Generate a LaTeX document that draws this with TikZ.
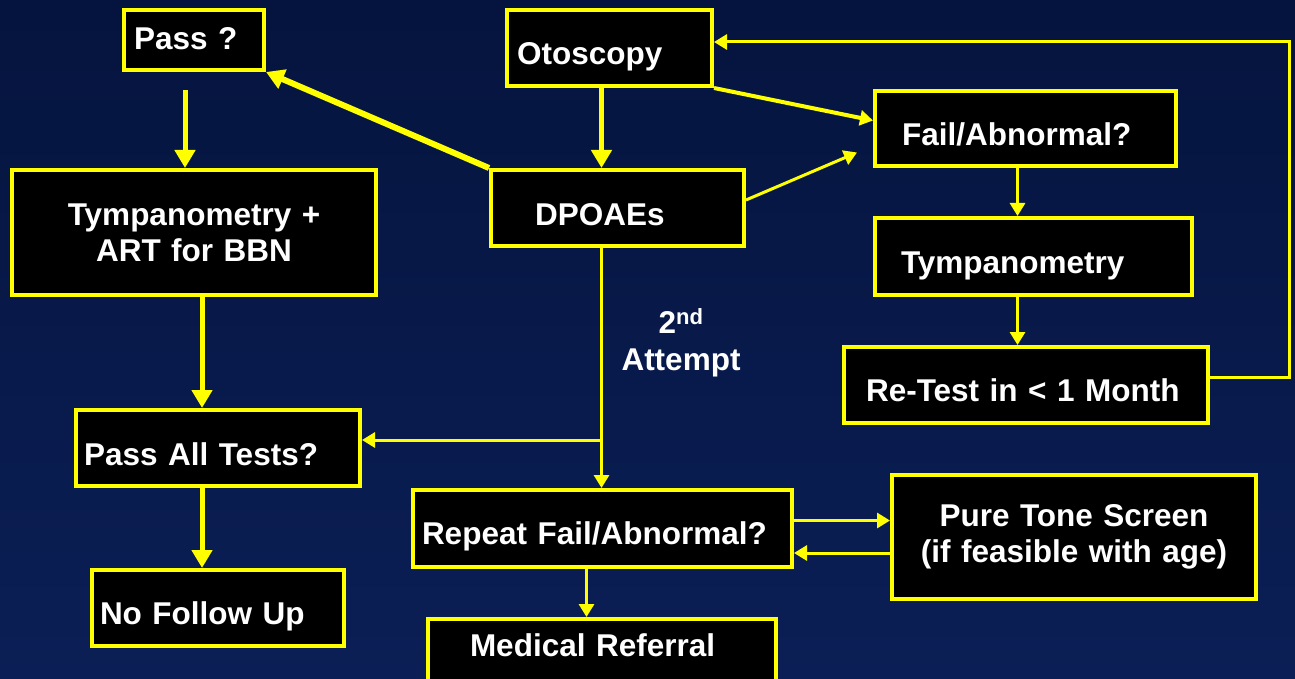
\documentclass[tikz,border=0pt]{standalone}
\usepackage{fontspec}
\setmainfont{Liberation Sans}
\definecolor{flowyellow}{RGB}{255,255,0}
\definecolor{navytop}{RGB}{5,20,62}
\definecolor{navybottom}{RGB}{11,31,86}
\usetikzlibrary{arrows.meta,calc}

\begin{document}
\begin{tikzpicture}[x=1pt, y=-1pt,
    box/.style={draw=flowyellow, fill=black, line width=4pt, text=white,
        font=\bfseries\fontsize{31.5}{36}\selectfont, align=left,
        text height=33.6pt, text depth=0pt, inner ysep=0pt},
    twoline/.style={box, align=center, text height={}, text depth={},
        text width=320pt, inner xsep=22pt},
    arr/.style={draw=flowyellow, line width=3pt, -{Triangle[length=13pt,width=15pt]}},
    thickarr/.style={arr, line width=5pt, -{Triangle[length=18pt,width=20pt]}}]

    % Background
    \shade[top color=navytop, bottom color=navybottom] (0,0) rectangle (1295,679);
    \useasboundingbox (0,0) rectangle (1295,679);

    % Boxes
    \node[box, inner xsep=10pt, text width=120pt, minimum height=60pt, text height=18.6pt] (pass) at (194,40) {Pass ?};
    \node[box, inner xsep=10pt, text width=185pt, minimum height=76pt] (oto) at (609.5,48) {Otoscopy};
    \node[box, inner xsep=44pt, text width=165pt, minimum height=76pt, text height=34.6pt] (dpoae) at (617.5,208) {DPOAEs};
    \node[box, inner xsep=27pt, text width=247pt, minimum height=75pt] (fail) at (1025.5,128.5) {Fail/Abnormal?};
    \node[box, inner xsep=26pt, text width=265pt, minimum height=77pt] (tymp) at (1033.5,256.5) {Tympanometry};
    \node[box, inner xsep=22pt, text width=320pt, minimum height=76pt, text height=32.6pt] (retest) at (1026,385) {Re-Test in < 1 Month};
    \node[twoline, minimum height=125pt] (tympart) at (194,232.5) {Tympanometry +\\ART for BBN};
    \node[box, inner xsep=8pt, text width=268pt, minimum height=76pt, text height=34.6pt] (passall) at (218,448) {Pass All Tests?};
    \node[box, inner xsep=8pt, text width=236pt, minimum height=76pt] (nofollow) at (218,608) {No Follow Up};
    \node[box, inner xsep=9pt, text width=361pt, minimum height=77pt, text height=32.6pt] (repeat) at (602.5,528.5) {Repeat Fail/Abnormal?};
    \node[box, inner xsep=42pt, text width=264pt, minimum height=76pt, text height=10pt, text depth=11.4pt] (medical) at (602,657) {Medical Referral};
    \node[twoline, minimum height=124pt] (pure) at (1074,537) {Pure Tone Screen\\(if feasible with age)};

    % Label
    \node[text=white, font=\bfseries\fontsize{31.5}{37}\selectfont, align=center] (attempt) at (681,343) {2\textsuperscript{nd}\\Attempt};

    % Connectors
    \draw[thickarr, shorten <=18pt] ($(pass.south)+(-9pt,0)$) -- ($(pass.south |- tympart.north)+(-9pt,0)$);
    \draw[thickarr, line width=6pt] (dpoae.north west) -- (pass.south east);
    \draw[thickarr] ($(oto.south)+(-8pt,0)$) -- ($(oto.south |- dpoae.north)+(-8pt,0)$);
    \draw[arr, line width=4pt] (oto.south east) -- ($(fail.west)+(0,8pt)$);
    \draw[arr] ($(dpoae.east)+(0,8pt)$) -- ($(fail.west)+(-16pt,-24pt)$);
    \draw[arr] ($(fail.south)+(-8pt,0)$) -- ($(fail.south |- tymp.north)+(-8pt,0)$);
    \draw[arr] ($(tymp.south)+(-16pt,0)$) -- ($(tymp.south |- retest.north)+(-16pt,0)$);
    \draw[arr] ($(retest.east)+(0,8pt)$) -- ++(79,0) |- ($(oto.east)+(0,6pt)$);
    \draw[arr] ($(dpoae.south)+(-16pt,0)$) -- ($(dpoae.south |- repeat.north)+(-16pt,0)$);
    \draw[arr] ($(dpoae.south |- passall.east)+(-16pt,8pt)$) -- ($(passall.east)+(0,8pt)$);
    \draw[thickarr] ($(tympart.south)+(8pt,0)$) -- ($(tympart.south |- passall.north)+(8pt,0)$);
    \draw[thickarr] ($(passall.south)+(-16pt,0)$) -- ($(passall.south |- nofollow.north)+(-16pt,0)$);
    \draw[arr] ($(repeat.east)+(0,8pt)$) -- ($(repeat.east -| pure.west)+(0,8pt)$);
    \draw[arr] ($(pure.west)+(0,-16pt)$) -- ($(pure.west -| repeat.east)+(0,-16pt)$);
    \draw[arr] ($(repeat.south)+(-16pt,0)$) -- ($(repeat.south |- medical.north)+(-16pt,0)$);
\end{tikzpicture}
\end{document}
